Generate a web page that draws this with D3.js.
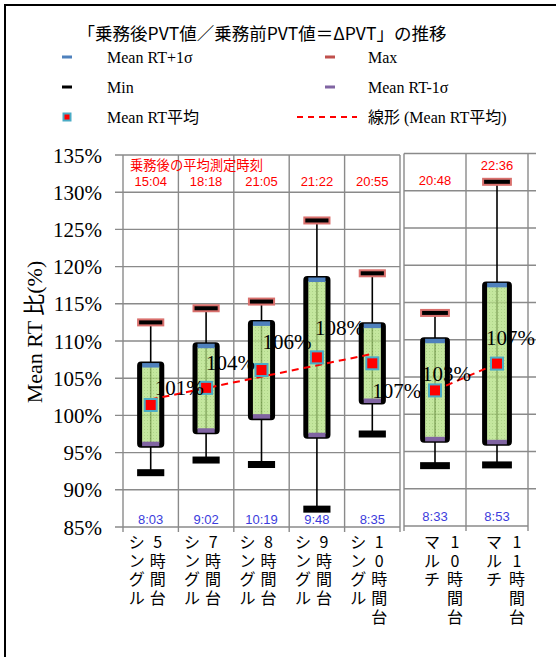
<!DOCTYPE html>
<html>
<head>
<meta charset="utf-8">
<script src="https://cdn.jsdelivr.net/npm/d3@7"></script>
<style>
  body { margin: 0; background: #fff; }
  svg { display: block; }
</style>
</head>
<body>
<div id="chart"></div>
<script>
// Data
var groupLabels = ["シングル", "シングル", "シングル", "シングル", "シングル", "マルチ", "マルチ"];
var hourLabels = ["5時間台", "7時間台", "8時間台", "9時間台", "10時間台", "10時間台", "11時間台"];
var panelOf = [0, 0, 0, 0, 0, 1, 1];

var maxVals   = [112.5, 114.4, 115.3, 126.2, 119.1, 113.6, 131.2];
var plus1Vals = [106.9, 109.5, 112.5, 118.4, 112.2, 110.0, 117.5];
var meanVals  = [101.4, 103.7, 106.1, 107.8, 107.0, 103.2, 106.8];
var minus1Vals = [96.0, 97.8, 99.7, 97.2, 101.8, 96.5, 96.1];
var minVals   = [92.3, 94.0, 93.4, 87.4, 97.5, 93.1, 93.2];

var meanLabels = ["101%", "104%", "106%", "108%", "107%", "103%", "107%"];
var afterTimes = ["15:04", "18:18", "21:05", "21:22", "20:55", "20:48", "22:36"];
var beforeTimes = ["8:03", "9:02", "10:19", "9:48", "8:35", "8:33", "8:53"];
var yTicks = [85, 90, 95, 100, 105, 110, 115, 120, 125, 130, 135];

// label placement (left edge / baseline relative to the mean marker)
var labelOffsets = [[4, -10], [0, -18], [1, -21], [-2, -22], [0, 35], [-13, -9], [-11, -19]];

var width = 556, height = 657;
var serif = "'Liberation Serif', 'Noto Sans CJK JP', serif";
var gothic = "'Noto Sans CJK JP', sans-serif";
var sans = "'Liberation Sans', Arial, sans-serif";
var gridColor = "#8a8a8a";

var svg = d3.select("#chart").append("svg")
    .attr("width", width)
    .attr("height", height);

var defs = svg.append("defs");
var pat = defs.append("pattern")
    .attr("id", "greenTex")
    .attr("patternUnits", "userSpaceOnUse")
    .attr("width", 3).attr("height", 3);
pat.append("rect").attr("width", 3).attr("height", 3).attr("fill", "#b4e083");
pat.append("rect").attr("width", 1).attr("height", 1).attr("fill", "#96c865");

// outer frame
svg.append("rect")
    .attr("x", 5).attr("y", 5)
    .attr("width", width + 10).attr("height", height + 10)
    .attr("fill", "none").attr("stroke", "#000").attr("stroke-width", 2);

// title
svg.append("text")
    .attr("x", 262).attr("y", 40)
    .attr("text-anchor", "middle")
    .attr("font-family", gothic).attr("font-size", 17.5)
    .text("「乗務後PVT値／乗務前PVT値＝ΔPVT」の推移");

// panels
var panels = [
    {x0: 123, x1: 400, ext: 400, top: 155, bottom: 527, idx: [0, 1, 2, 3, 4]},
    {x0: 404, x1: 528, ext: 536, top: 153.5, bottom: 526, idx: [5, 6]}
];

panels.forEach(function(p, pi) {
    p.y = d3.scaleLinear().domain([85, 135]).range([p.bottom, p.top]);
    p.x = d3.scaleBand().domain(p.idx).range([p.x0, p.x1]);
    var g = svg.append("g");
    p.g = g;

    // horizontal gridlines
    g.selectAll(".hgrid").data(yTicks.slice(1)).join("line")
        .attr("x1", pi === 0 ? p.x0 - 8 : p.x0).attr("x2", p.ext)
        .attr("y1", function(d) { return p.y(d); })
        .attr("y2", function(d) { return p.y(d); })
        .attr("stroke", gridColor).attr("stroke-width", 1.4);

    // vertical gridlines / borders
    var vlines = p.idx.map(function(i) { return p.x(i); }).concat([p.x1]);
    g.selectAll(".vgrid").data(vlines).join("line")
        .attr("x1", function(d) { return d; }).attr("x2", function(d) { return d; })
        .attr("y1", p.top).attr("y2", p.bottom + 5)
        .attr("stroke", gridColor).attr("stroke-width", 1.4);

    // bottom axis
    g.append("line")
        .attr("x1", pi === 0 ? p.x0 - 8 : p.x0).attr("x2", p.x1)
        .attr("y1", p.bottom).attr("y2", p.bottom)
        .attr("stroke", gridColor).attr("stroke-width", 1.6);
});

// y axis labels (left panel)
var yL = panels[0].y;
svg.append("g").selectAll("text").data(yTicks).join("text")
    .attr("x", 102).attr("y", function(d) { return yL(d) + 7.5; })
    .attr("text-anchor", "end")
    .attr("font-family", serif).attr("font-size", 21)
    .text(function(d) { return d + "%"; });

svg.append("text")
    .attr("transform", "translate(42,332) rotate(-90)")
    .attr("text-anchor", "middle")
    .attr("font-family", serif).attr("font-size", 22)
    .text("Mean RT 比(%)");

// boxes
var rows = d3.range(meanVals.length);

rows.forEach(function(i) {
    var p = panels[panelOf[i]];
    var cx = p.x(i) + p.x.bandwidth() / 2;
    var bw = p.x.bandwidth() * 0.4;
    var barW = bw + 5;
    var g = p.g;

    // whisker
    g.append("line")
        .attr("x1", cx).attr("x2", cx)
        .attr("y1", p.y(minVals[i])).attr("y2", p.y(maxVals[i]))
        .attr("stroke", "#000").attr("stroke-width", 1.6);

    // max bar
    g.append("rect")
        .attr("x", cx - barW / 2 + 1).attr("y", p.y(maxVals[i]) - 3)
        .attr("width", barW - 2).attr("height", 6)
        .attr("fill", "#000").attr("stroke", "#d9706d").attr("stroke-width", 2);

    // min bar
    g.append("rect")
        .attr("x", cx - barW / 2).attr("y", p.y(minVals[i]) - 3.5)
        .attr("width", barW).attr("height", 7)
        .attr("fill", "#000");

    // box
    var top = p.y(plus1Vals[i]), bot = p.y(minus1Vals[i]);
    g.append("rect")
        .attr("x", cx - bw / 2).attr("y", top)
        .attr("width", bw).attr("height", bot - top)
        .attr("fill", "url(#greenTex)").attr("fill-opacity", 0.78)
        .attr("stroke", "#000").attr("stroke-width", 5)
        .attr("rx", 1.5);

    // +1 sigma cap
    g.append("rect")
        .attr("x", cx - bw / 2 + 2.5).attr("y", top - 1)
        .attr("width", bw - 5).attr("height", 4.5)
        .attr("fill", "#4f81bd");

    // -1 sigma cap
    g.append("rect")
        .attr("x", cx - bw / 2 + 2.5).attr("y", bot - 3.5)
        .attr("width", bw - 5).attr("height", 4.5)
        .attr("fill", "#8064a2");
});

// trend lines (linear fit of the means within each panel)
panels.forEach(function(p) {
    var xs = p.idx.map(function(d, k) { return k + 1; });
    var ys = p.idx.map(function(i) { return meanVals[i]; });
    var mx = d3.mean(xs), my = d3.mean(ys);
    var slope = d3.sum(xs, function(x, k) { return (x - mx) * (ys[k] - my); }) /
        d3.sum(xs, function(x) { return (x - mx) * (x - mx); });
    var pts = [xs[0], xs[xs.length - 1]].map(function(x, k) {
        var i = k === 0 ? p.idx[0] : p.idx[p.idx.length - 1];
        return [p.x(i) + p.x.bandwidth() / 2, p.y(my + slope * (x - mx))];
    });
    p.g.append("path")
        .attr("d", d3.line()(pts))
        .attr("fill", "none")
        .attr("stroke", "#ff0000").attr("stroke-width", 2)
        .attr("stroke-dasharray", "7,5");
});

// mean markers
rows.forEach(function(i) {
    var p = panels[panelOf[i]];
    var cx = p.x(i) + p.x.bandwidth() / 2;
    var cy = p.y(meanVals[i]);
    p.g.append("rect")
        .attr("x", cx - 6).attr("y", cy - 6)
        .attr("width", 12).attr("height", 12)
        .attr("fill", "#ff0000").attr("stroke", "#4bacc6").attr("stroke-width", 2);
});

// texts
rows.forEach(function(i) {
    var p = panels[panelOf[i]];
    var cx = p.x(i) + p.x.bandwidth() / 2;
    var cy = p.y(meanVals[i]);
    svg.append("text")
        .attr("x", cx + labelOffsets[i][0]).attr("y", cy + labelOffsets[i][1])
        .attr("font-family", serif).attr("font-size", 21)
        .text(meanLabels[i]);

    // after-shift time (top, red)
    var ty = Math.min(p.y(130.8), p.y(maxVals[i]) - 12);
    svg.append("text")
        .attr("x", cx).attr("y", ty)
        .attr("text-anchor", "middle")
        .attr("font-family", sans).attr("font-size", 13)
        .attr("fill", "#ff0000")
        .text(afterTimes[i]);

    // before-shift time (bottom, blue)
    svg.append("text")
        .attr("x", cx).attr("y", p.bottom - (panelOf[i] === 0 ? 3 : 5))
        .attr("text-anchor", "middle")
        .attr("font-family", sans).attr("font-size", 13)
        .attr("fill", "#3c3cdc")
        .text(beforeTimes[i]);

    // category labels, stacked vertically in two columns
    var offs = panelOf[i] === 0 ? [-14, 7] : [-3, 20];
    [groupLabels[i], hourLabels[i]].forEach(function(s, c) {
        svg.append("g").selectAll("text").data(Array.from(s)).join("text")
            .attr("x", cx + offs[c])
            .attr("y", function(d, k) { return 548 + k * 18.7; })
            .attr("text-anchor", "middle")
            .attr("font-family", gothic).attr("font-size", 16)
            .text(function(d) { return d; });
    });
});

svg.append("text")
    .attr("x", 130).attr("y", 170)
    .attr("font-family", gothic).attr("font-size", 13.3)
    .attr("fill", "#ff0000")
    .text("乗務後の平均測定時刻");

// legend
var legendItems = [
    {label: "Mean RT+1σ", type: "dash", color: "#4f81bd", col: 0, row: 0},
    {label: "Max", type: "dash", color: "#c0504d", col: 1, row: 0},
    {label: "Min", type: "dash", color: "#000", col: 0, row: 1},
    {label: "Mean RT-1σ", type: "dash", color: "#8064a2", col: 1, row: 1},
    {label: "Mean RT平均", type: "square", color: "#ff0000", col: 0, row: 2},
    {label: "線形 (Mean RT平均)", type: "line", color: "#ff0000", col: 1, row: 2}
];
var legCols = [{mx: 67, tx: 107}, {mx: 330, tx: 368}];
var legRows = [57, 87, 117];

var leg = svg.append("g");
legendItems.forEach(function(d) {
    var mx = legCols[d.col].mx, y = legRows[d.row];
    if (d.type === "dash") {
        leg.append("rect").attr("x", mx - 5).attr("y", y - 1.5)
            .attr("width", 10).attr("height", 3).attr("fill", d.color);
    } else if (d.type === "square") {
        leg.append("rect").attr("x", mx - 3.5).attr("y", y - 3.5)
            .attr("width", 7).attr("height", 7)
            .attr("fill", d.color).attr("stroke", "#4bacc6").attr("stroke-width", 2);
    } else {
        leg.append("line").attr("x1", mx - 33).attr("x2", mx + 27)
            .attr("y1", y).attr("y2", y)
            .attr("stroke", d.color).attr("stroke-width", 2)
            .attr("stroke-dasharray", "6,5");
    }
    leg.append("text")
        .attr("x", legCols[d.col].tx).attr("y", y + 5.5)
        .attr("font-family", serif).attr("font-size", 16)
        .text(d.label);
});
</script>
</body>
</html>
